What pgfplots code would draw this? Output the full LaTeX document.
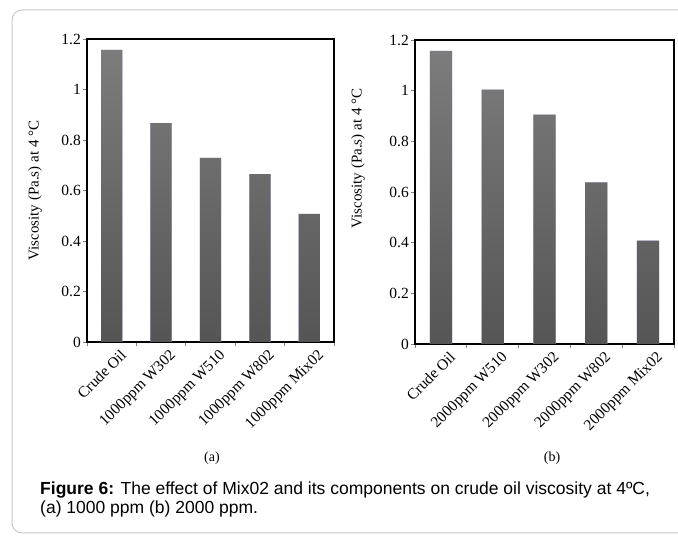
\documentclass[border=0pt]{standalone}
\usepackage{pgfplots}
\pgfplotsset{compat=1.18}
\usepackage{fontspec}
\setmainfont{Liberation Serif}
\newfontfamily\capfont{Liberation Sans}

\definecolor{barTop}{HTML}{7C7C7C}
\definecolor{barBot}{HTML}{555555}
\definecolor{frameGray}{HTML}{C8C8C8}

\pgfplotsset{
  visc/.style={
    scale only axis,
    ybar, bar width=0.43,
    xmin=-0.5, xmax=4.5,
    ymin=0, ymax=1.2,
    xtick={0,...,4},
    ytick={0,0.2,0.4,0.6,0.8,1,1.2},
    minor xtick={-0.5,0.5,1.5,2.5,3.5,4.5},
    major x tick style={draw=none},
    tick align=outside,
    major tick length=4bp,
    minor tick length=4bp,
    xtick pos=bottom, ytick pos=left,
    y tick style={gray, line width=0.8bp},
    minor x tick style={gray, line width=0.8bp},
    axis line style={black, line width=1.5bp},
    /pgf/number format/assume math mode=true,
    ticklabel style={font=\fontsize{15.5bp}{18bp}\selectfont},
    yticklabel style={inner sep=2bp},
    xticklabel style={rotate=45, anchor=north east, inner sep=1bp, xshift=5bp, yshift=-6bp},
    label style={font=\fontsize{15bp}{18bp}\selectfont},
    ylabel={Viscosity (Pa.s) at 4 °C},
  },
  every axis plot/.append style={draw=none, top color=barTop, bottom color=barBot},
}

\begin{document}
\begin{tikzpicture}[x=1bp,y=1bp]
\clip (0,0) rectangle (678,536);
\useasboundingbox (0,0) rectangle (678,536);
\draw[frameGray, line width=1bp, rounded corners=10bp] (12,3) rectangle (720,526);

% (a) 1000 ppm
\begin{axis}[visc,
  at={(87bp,194bp)}, anchor=south west,
  width=247bp, height=303bp,
  xticklabels={Crude Oil, 1000ppm W302, 1000ppm W510, 1000ppm W802, 1000ppm Mix02},
  ylabel style={at={(axis description cs:-0.21,0.5)}, anchor=center},
]
\addplot coordinates {(0,1.157) (1,0.867) (2,0.729) (3,0.665) (4,0.507)};
\end{axis}

% (b) 2000 ppm
\begin{axis}[visc,
  at={(415bp,192bp)}, anchor=south west,
  width=259bp, height=304bp,
  xticklabels={Crude Oil, 2000ppm W510, 2000ppm W302, 2000ppm W802, 2000ppm Mix02},
  ylabel style={at={(axis description cs:-0.22,0.61)}, anchor=center},
]
\addplot coordinates {(0,1.157) (1,1.004) (2,0.905) (3,0.638) (4,0.408)};
\end{axis}

\node[font=\fontsize{14bp}{16bp}\selectfont] at (212,78) {(a)};
\node[font=\fontsize{14bp}{16bp}\selectfont] at (552,78) {(b)};

\node[anchor=west, inner sep=0pt, font=\capfont\fontsize{17.5bp}{20bp}\selectfont] at (40,46)
  {\textbf{Figure 6:} The effect of Mix02 and its components on crude oil viscosity at 4ºC,};
\node[anchor=west, inner sep=0pt, font=\capfont\fontsize{17.5bp}{20bp}\selectfont] at (40,27)
  {(a) 1000 ppm (b) 2000 ppm.};
\end{tikzpicture}
\end{document}
